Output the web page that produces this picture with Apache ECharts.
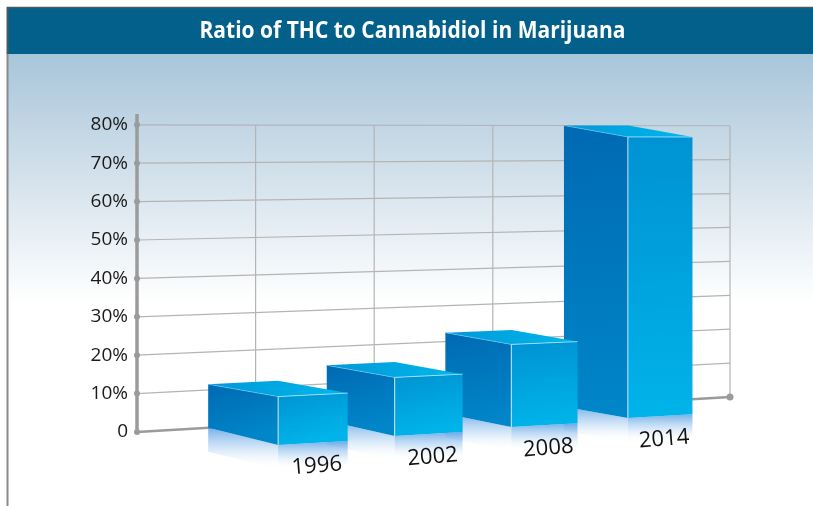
<!DOCTYPE html>
<html>
<head>
<meta charset="utf-8">
<script src="https://cdn.jsdelivr.net/npm/echarts@6/dist/echarts.min.js"></script>
<style>
html,body{margin:0;padding:0;background:#fff;}
#c{width:813px;height:506px;}
</style>
</head>
<body>
<div id="c"></div>
<script>
// ---- data ----
const titleText = 'Ratio of THC to Cannabidiol in Marijuana';
const categories = ['1996', '2002', '2008', '2014'];
const values = [11.5, 15, 22.5, 80];
const yTicks = [0, 10, 20, 30, 40, 50, 60, 70, 80];
const yMax = 80;

// ---- perspective helpers (layout only) ----
const N = categories.length + 1;          // number of grid cells across
const RIGHT_DROP = 35 / 307.2;            // right edge baseline rise (fraction of grid height)
const RIGHT_SCALE = 0.883;                // right edge vertical scale

function makeWarp(params, api) {
  const cs = params.coordSys;
  const yB = cs.y + cs.height;
  return function (u, v) {
    const p = api.coord([u, v]);
    const f = (p[0] - cs.x) / cs.width;
    const h = yB - p[1];
    const y = yB - f * RIGHT_DROP * cs.height - h * (1 - f * (1 - RIGHT_SCALE));
    return [p[0], y];
  };
}

const chart = echarts.init(document.getElementById('c'), null, {renderer: 'canvas'});

// title compression to match condensed face
const mctx = document.createElement('canvas').getContext('2d');
const titleFont = 'bold 24px "Open Sans", "Liberation Sans", sans-serif';
mctx.font = titleFont;
const tw = mctx.measureText(titleText).width;
const titleScale = Math.min(1, 426 / tw);

const option = {
  animation: false,
  graphic: [
    {type: 'rect', z: -10, shape: {x: 8, y: 54, width: 805, height: 452},
     style: {fill: {type: 'linear', x: 0, y: 0, x2: 0, y2: 1, colorStops: [
       {offset: 0, color: '#a8c5da'}, {offset: 0.25, color: '#d0dfea'},
       {offset: 0.55, color: '#ffffff'}, {offset: 1, color: '#ffffff'}]}}},
    {type: 'rect', z: -9, shape: {x: 8, y: 7, width: 805, height: 47}, style: {fill: '#02608a'}},
    {type: 'line', z: -8, shape: {x1: 7, y1: 7.5, x2: 813, y2: 7.5}, style: {stroke: '#4e5a60', lineWidth: 1.5}},
    {type: 'line', z: -8, shape: {x1: 7.5, y1: 7, x2: 7.5, y2: 54}, style: {stroke: '#4e5a60', lineWidth: 2}},
    {type: 'line', z: -8, shape: {x1: 7.5, y1: 54, x2: 7.5, y2: 506}, style: {stroke: '#8a8a8a', lineWidth: 2}},
    {type: 'text', z: 10, x: 412.5, y: 31.5, scaleX: titleScale, scaleY: 1,
     style: {text: titleText, font: titleFont, fill: '#ffffff', align: 'center', verticalAlign: 'middle'}}
  ],
  grid: {left: 137, top: 124.8, width: 593, height: 307.2},
  xAxis: {type: 'value', min: 0, max: N, show: false},
  yAxis: {
    type: 'value', min: 0, max: yMax, interval: 10,
    axisLine: {show: false}, axisTick: {show: false}, splitLine: {show: false},
    axisLabel: {
      margin: 9, fontSize: 19, color: '#1a1a1a', fontFamily: '"Open Sans", sans-serif',
      formatter: v => (v === 0 ? '0' : v + '%')
    }
  },
  series: [
    { // horizontal grid lines (slanted)
      type: 'custom', silent: true, z: 1,
      data: yTicks.filter(v => v > 0).map(v => [v]),
      renderItem: function (params, api) {
        const w = makeWarp(params, api);
        const v = api.value(0);
        const a = w(0, v), b = w(N, v);
        return {type: 'line', shape: {x1: a[0], y1: a[1], x2: b[0], y2: b[1]},
                style: {stroke: '#b4b4b4', lineWidth: 1.2}};
      }
    },
    { // vertical grid lines
      type: 'custom', silent: true, z: 1,
      data: Array.from({length: N}, (_, i) => [i + 1]),
      renderItem: function (params, api) {
        const w = makeWarp(params, api);
        const u = api.value(0);
        const a = w(u, 0), b = w(u, yMax);
        return {type: 'line', shape: {x1: a[0], y1: a[1], x2: b[0], y2: b[1]},
                style: {stroke: '#b4b4b4', lineWidth: 1.2}};
      }
    },
    { // axes
      type: 'custom', silent: true, z: 2,
      data: [[0]],
      renderItem: function (params, api) {
        const w = makeWarp(params, api);
        const o = w(0, 0), top = w(0, yMax + 2.8), r = w(N, 0);
        const children = [
          {type: 'line', shape: {x1: o[0], y1: o[1], x2: top[0], y2: top[1]}, style: {stroke: '#9b9b9b', lineWidth: 3.5}},
          {type: 'line', shape: {x1: o[0], y1: o[1], x2: r[0], y2: r[1]}, style: {stroke: '#9b9b9b', lineWidth: 2.5}},
          {type: 'circle', shape: {cx: r[0], cy: r[1], r: 3.5}, style: {fill: '#9b9b9b'}}
        ];
        yTicks.forEach(t => {
          const p = w(0, t);
          children.push({type: 'circle', shape: {cx: p[0], cy: p[1], r: 3}, style: {fill: '#9b9b9b'}});
        });
        return {type: 'group', children: children};
      }
    },
    { // 3D bars
      type: 'custom', z: 5,
      data: categories.map((c, i) => [i, values[i], c]).reverse(),
      renderItem: function (params, api) {
        const cs = params.coordSys;
        const w = makeWarp(params, api);
        const i = api.value(0), v = api.value(1);
        const label = categories[i];
        const u0 = i + 0.6;
        const f0 = u0 / N;
        const u1 = u0 + (0.595 - 0.07 * f0);
        const s = cs.height / 307.2;
        const cellW = cs.width / N;
        const dx = (0.60 - 0.085 * f0) * cellW;
        const dyT = (12.5 - 1.5 * f0) * s;
        const dyB = (18.5 - 10 * f0) * s;
        const B0 = w(u0, 0), B1 = w(u1, 0), T0 = w(u0, v), T1 = w(u1, v);
        const FT0 = [T0[0] + dx, T0[1] + dyT], FT1 = [T1[0] + dx, T1[1] + dyT];
        const FB0 = [B0[0] + dx, B0[1] + dyB], FB1 = [B1[0] + dx, B1[1] + dyB];
        const R = 24 * s;
        const reflFill = {type: 'linear', x: 0, y: 0, x2: 0, y2: 1, colorStops: [
          {offset: 0, color: 'rgba(70,150,225,0.75)'}, {offset: 0.5, color: 'rgba(160,200,240,0.45)'},
          {offset: 1, color: 'rgba(255,255,255,0)'}]};
        const lc = [(FB0[0] + FB1[0]) / 2 + 4, (FB0[1] + FB1[1]) / 2 + 23 * s];
        return {type: 'group', children: [
          {type: 'polygon', shape: {points: [B0, FB0, [FB0[0], FB0[1] + R], [B0[0], B0[1] + R]]}, style: {fill: reflFill}},
          {type: 'polygon', shape: {points: [FB0, FB1, [FB1[0], FB1[1] + R], [FB0[0], FB0[1] + R]]}, style: {fill: reflFill}},
          {type: 'polygon', shape: {points: [T0, FT0, FB0, B0]},
           style: {fill: {type: 'linear', x: 0, y: 0, x2: 0.3, y2: 1, colorStops: [
             {offset: 0, color: '#006ab3'}, {offset: 1, color: '#0086c9'}]}}},
          {type: 'polygon', shape: {points: [FT0, FT1, FB1, FB0]},
           style: {fill: {type: 'linear', x: 0, y: 0, x2: 0.2, y2: 1, colorStops: [
             {offset: 0, color: '#0092d2'}, {offset: 1, color: '#00b3e8'}]}}},
          {type: 'polygon', shape: {points: [T0, T1, FT1, FT0]},
           style: {fill: {type: 'linear', x: 0, y: 0, x2: 1, y2: 1, colorStops: [
             {offset: 0, color: '#0098d8'}, {offset: 1, color: '#00b8ec'}]}}},
          {type: 'line', shape: {x1: FT0[0], y1: FT0[1], x2: FB0[0], y2: FB0[1]},
           style: {stroke: 'rgba(255,255,255,0.75)', lineWidth: 1}},
          {type: 'line', shape: {x1: FT0[0], y1: FT0[1], x2: FT1[0], y2: FT1[1]},
           style: {stroke: 'rgba(180,230,250,0.8)', lineWidth: 1}},
          {type: 'line', shape: {x1: T0[0], y1: T0[1], x2: FT0[0], y2: FT0[1]},
           style: {stroke: 'rgba(120,200,240,0.6)', lineWidth: 1}},
          {type: 'text', x: lc[0], y: lc[1], rotation: 0.08,
           style: {text: label, fill: '#111', font: '22px "Open Sans", sans-serif', align: 'center', verticalAlign: 'middle'}}
        ]};
      }
    }
  ]
};
chart.setOption(option);
</script>
</body>
</html>
